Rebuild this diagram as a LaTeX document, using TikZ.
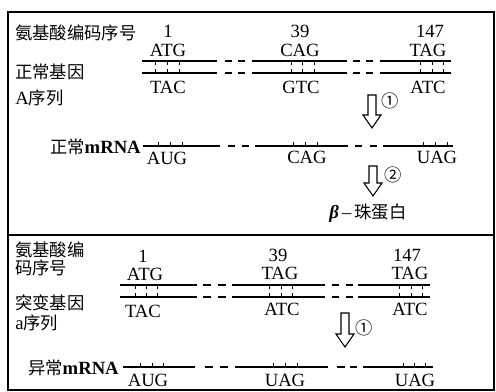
\documentclass[tikz,border=0pt]{standalone}
\usepackage{fontspec}
\setmainfont{Liberation Serif}
\newfontfamily\cjk{Noto Sans CJK SC}
\tikzset{
  lbl/.style={inner sep=0pt, font=\fontsize{14}{15}\selectfont},
  cn/.style={inner sep=0pt, font=\fontsize{13}{15}\selectfont\cjk},
  strandline/.style={line width=0.8pt},
  tickline/.style={line width=0.7pt},
  frameline/.style={line width=1.1pt},
  hollow/.style={line width=0.8pt, fill=white}
}
\newcommand\hollowarrow[3]{%
  \draw[hollow] ({#1-4},#2) -- ({#1+4},#2) -- ({#1+4},{#3-13}) -- ({#1+9},{#3-13})
    -- (#1,#3) -- ({#1-9},{#3-13}) -- ({#1-4},{#3-13}) -- cycle;}
\begin{document}
\begin{tikzpicture}[x=0.75pt,y=-0.75pt]
\useasboundingbox (0,0) rectangle (496,392);
% frame
\draw[frameline] (8,12) rectangle (494,390);
\draw[frameline] (8,235) -- (494,235);

% ===== top: normal gene A =====
\node[cn,anchor=west] (t1) at (15,33) {氨基酸编码序号};
\node[cn,anchor=west] (t2) at (15,72) {正常基因};
\node[cn,anchor=west] (t3) at (15,98) {{\fontsize{14}{15}\rmfamily A}序列};

\node[lbl] (n1) at (168,31) {1};
\node[lbl] (n39) at (300,31) {39};
\node[lbl] (n147) at (430,31) {147};
\node[lbl] (c1) at (168,50) {ATG};
\node[lbl] (c2) at (300,50) {CAG};
\node[lbl] (c3) at (428,50) {TAG};
\node[lbl] (d1) at (168,87) {TAC};
\node[lbl] (d2) at (301,87) {GTC};
\node[lbl] (d3) at (428,87) {ATC};

\foreach \yy in {61,73}{
  \foreach \a/\b in {142/217,225/232,238/245,252/347,353/360,366/373,380/451}
    \draw[strandline] (\a,\yy) -- (\b,\yy);
}
\foreach \xx in {155,167,179,291,302,314,420,432,443}{
  \draw[tickline] (\xx,61) -- (\xx,65);
  \draw[tickline] (\xx,73) -- (\xx,69);
}

\hollowarrow{372}{95}{128}
\node[cn] (s1) at (390,101) {①};

% normal mRNA
\node[lbl,anchor=east] (m1) at (141,147) {{\cjk\fontsize{13}{15}\selectfont 正常}\textbf{mRNA}};
\foreach \a/\b in {143/220,228/235,242/249,255/348,355/362,370/377,383/453}
  \draw[strandline] (\a,146) -- (\b,146);
\foreach \xx in {158,170,182,293,305,317,423,435,447}
  \draw[tickline] (\xx,146) -- (\xx,142);
\node[lbl] (r1) at (167,158) {AUG};
\node[lbl] (r2) at (307,157) {CAG};
\node[lbl] (r3) at (437,157) {UAG};

\hollowarrow{373}{166}{196}
\node[cn] (s2) at (393,175) {②};
\node[lbl] (p1) at (368,213) {\textbf{\textit{β}}\,–\,{\cjk\fontsize{13}{15}\selectfont 珠蛋白}};

% ===== bottom: mutant gene a =====
\node[cn,anchor=west] (b1) at (15,250) {氨基酸编};
\node[cn,anchor=west] (b2) at (15,268) {码序号};
\node[cn,anchor=west] (b3) at (15,303) {突变基因};
\node[cn,anchor=west] (b4) at (15,323) {{\fontsize{14}{15}\rmfamily a}序列};

\node[lbl] (bn1) at (143,256) {1};
\node[lbl] (bn39) at (278,255) {39};
\node[lbl] (bn147) at (407,255) {147};
\node[lbl] (bc1) at (145,274) {ATG};
\node[lbl] (bc2) at (280,273) {TAG};
\node[lbl] (bc3) at (410,273) {TAG};
\node[lbl] (bd1) at (143,311) {TAC};
\node[lbl] (bd2) at (282,309) {ATC};
\node[lbl] (bd3) at (410,309) {ATC};

\foreach \yy in {285,297}{
  \foreach \a/\b in {120/197,203/211,218/226,232/325,332/339,346/353,358/430}
    \draw[strandline] (\a,\yy) -- (\b,\yy);
}
\foreach \xx in {135,146,157,269,281,292,399,411,422}{
  \draw[tickline] (\xx,285) -- (\xx,289);
  \draw[tickline] (\xx,297) -- (\xx,293);
}

\hollowarrow{345}{313}{347}
\node[cn] (s3) at (364,328) {①};

% abnormal mRNA
\node[lbl,anchor=east] (m2) at (119,368) {{\cjk\fontsize{13}{15}\selectfont 异常}\textbf{mRNA}};
\foreach \a/\b in {123/195,205/213,220/228,235/328,337/345,350/357,363/433}
  \draw[strandline] (\a,367) -- (\b,367);
\foreach \xx in {140,152,163,273,285,297,403,414,425}
  \draw[tickline] (\xx,367) -- (\xx,363);
\node[lbl] (br1) at (148,380) {AUG};
\node[lbl] (br2) at (285,380) {UAG};
\node[lbl] (br3) at (415,380) {UAG};
\end{tikzpicture}
\end{document}
